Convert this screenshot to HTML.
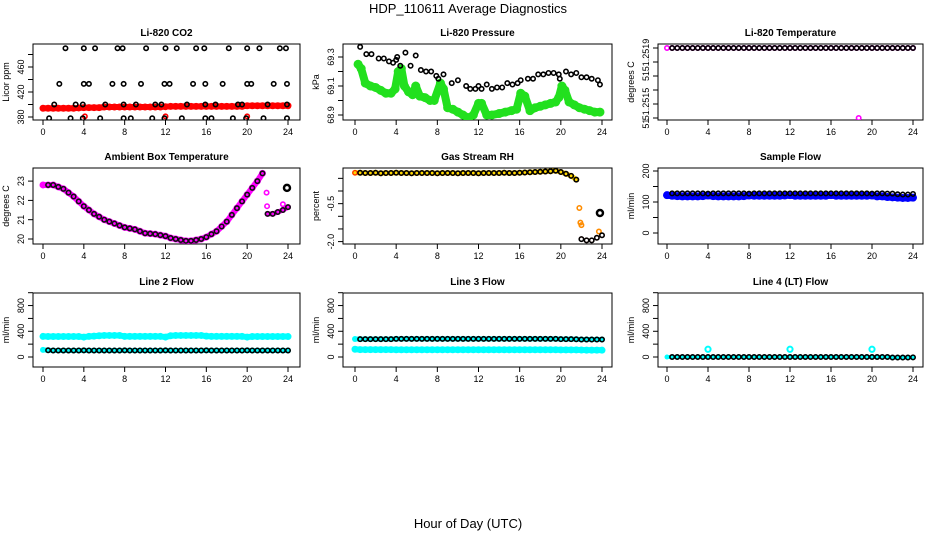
<!DOCTYPE html>
<html><head><meta charset="utf-8">
<style>
html,body{margin:0;padding:0;background:#fff;}
svg{display:block;font-family:"Liberation Sans",sans-serif;}
</style></head>
<body>
<svg id="chart" width="936" height="540" viewBox="0 0 936 540" xmlns="http://www.w3.org/2000/svg">
<text x="468" y="13" text-anchor="middle" font-size="13">HDP_110611  Average Diagnostics</text>
<text x="468" y="528" text-anchor="middle" font-size="13">Hour of Day (UTC)</text>
</svg>
<script>
// ---------- data ----------
const xTicks = [0,4,8,12,16,20,24];
const halfHours = [0,0.5,1,1.5,2,2.5,3,3.5,4,4.5,5,5.5,6,6.5,7,7.5,8,8.5,9,9.5,10,10.5,11,11.5,12,12.5,13,13.5,14,14.5,15,15.5,16,16.5,17,17.5,18,18.5,19,19.5,20,20.5,21,21.5,22,22.5,23,23.5,24];

// CO2
const co2Times = [2.2,4,5.1,7.3,7.8,10.1,12,13.1,15,15.8,18.2,20,21.2,23.2,23.8,
  1.6,4,4.5,6.8,7.9,9.6,11.9,12.4,14.7,15.9,17.6,20,20.4,22.6,23.9,
  1.1,3.2,3.9,6.1,7.9,9.1,11.0,11.6,14.1,15.9,16.9,19.1,19.5,22.0,23.9,
  0.6,2.7,3.9,5.6,7.9,8.6,10.7,11.9,13.6,15.9,16.5,18.6,19.9,21.6,23.9];
const co2Vals = [490,490,490,490,490,490,490,490,490,490,490,490,490,490,490,
  433,433,433,433,433,433,433,433,433,433,433,433,433,433,433,
  400,400,400,400,400,400,400,400,400,400,400,400,400,400,400,
  378,378,378,378,378,378,378,378,378,378,378,378,378,378,378];
const co2Red = [394,394,394,394,394,394,394,394.5,395,395,395,395,396,396,396,396,396,396,396,396,396,396,396,396,396.5,397,397,397,397,397,397,397,397,397,397,397,397,397,397,397,398,398,398,398,398,398,398,398,398];
const co2RedOutT = [4.1,12,20];
const co2RedOutV = [381,381,381];

// Pressure
const presTimes = [0.5,1.1,1.6,2.3,2.8,3.3,3.7,4.0,4.1,4.4,4.9,5.4,5.9,6.4,6.9,7.4,7.9,8.1,8.6,9.4,10.0,10.8,11.2,11.7,12.0,12.3,12.8,13.3,13.8,14.3,14.8,15.3,15.8,16.1,16.8,17.3,17.8,18.3,18.8,19.3,19.8,19.9,20.5,21.0,21.5,22.0,22.5,23.0,23.6,23.8];
const presVals = [69.37,69.32,69.32,69.29,69.29,69.27,69.26,69.28,69.3,69.24,69.33,69.24,69.31,69.21,69.2,69.2,69.17,69.15,69.18,69.12,69.14,69.1,69.08,69.08,69.1,69.08,69.11,69.08,69.09,69.09,69.12,69.11,69.12,69.14,69.15,69.15,69.18,69.18,69.19,69.19,69.18,69.15,69.2,69.18,69.19,69.16,69.16,69.15,69.14,69.11];
const presGreenT = [0.3,0.6,1.0,1.5,2,2.5,3,3.5,3.9,4.2,4.5,4.8,5.2,5.6,5.9,6.3,6.8,7.3,7.7,8.3,8.6,9.0,9.5,10,10.5,11,11.5,12.0,12.3,12.8,13.3,14,14.6,15.2,15.7,16.1,16.5,17,17.5,18,18.5,19,19.5,19.8,20.1,20.4,20.8,21.3,21.8,22.3,22.8,23.3,23.8];
const presGreenV = [69.25,69.22,69.12,69.1,69.09,69.07,69.05,69.05,69.08,69.2,69.22,69.1,69.06,69.04,69.1,69.03,69.02,69.0,69.0,69.12,69.08,68.95,68.94,68.92,68.9,68.88,68.9,68.98,68.98,68.9,68.9,68.91,68.92,68.93,68.94,69.05,69.03,68.93,68.95,68.96,68.97,68.98,68.99,69.02,69.1,69.07,68.99,68.97,68.95,68.94,68.93,68.92,68.92];

// Li-820 temperature
const tempBlack = [51.2519,51.2519,51.2519,51.2519,51.2519,51.2519,51.2519,51.2519,51.2519,51.2519,51.2519,51.2519,51.2519,51.2519,51.2519,51.2519,51.2519,51.2519,51.2519,51.2519,51.2519,51.2519,51.2519,51.2519,51.2519,51.2519,51.2519,51.2519,51.2519,51.2519,51.2519,51.2519,51.2519,51.2519,51.2519,51.2519,51.2519,51.2519,51.2519,51.2519,51.2519,51.2519,51.2519,51.2519,51.2519,51.2519,51.2519,51.2519,51.2519];
const tempOutT = [18.7];
const tempOutV = [51.2514];

// Ambient box temperature
const ambMag = [22.8,22.8,22.8,22.7,22.6,22.4,22.2,21.95,21.7,21.5,21.3,21.15,21.0,20.9,20.8,20.7,20.6,20.55,20.5,20.4,20.3,20.28,20.25,20.2,20.15,20.05,20.0,19.95,19.9,19.9,19.95,20.0,20.1,20.25,20.4,20.65,20.9,21.25,21.6,21.95,22.3,22.65,23.0,23.4,21.3,21.3,21.4,21.5,21.65];
const ambExtraT = [21.9,21.95,23.5];
const ambExtraV = [22.4,21.7,21.8];
const ambBlackOutT = [23.9];
const ambBlackOutV = [22.65];

// Gas stream RH
const rhVals = [0.72,0.72,0.71,0.71,0.72,0.7,0.71,0.71,0.72,0.71,0.71,0.7,0.71,0.71,0.71,0.71,0.7,0.71,0.71,0.71,0.7,0.71,0.71,0.71,0.7,0.71,0.71,0.71,0.71,0.72,0.71,0.71,0.72,0.73,0.74,0.75,0.76,0.77,0.78,0.8,0.75,0.68,0.6,0.45,-1.9,-1.95,-1.95,-1.85,-1.75];
const rhExtraT = [21.8,21.9,22.0,23.7];
const rhExtraV = [-0.67,-1.25,-1.35,-1.6];
const rhBlackOutT = [23.8];
const rhBlackOutV = [-0.87];

// Sample flow
const sfBlack = [128,128,128,128,128,128,128,128,127,128,128,128,128,128,128,128,127,128,128,128,128,128,128,128,128,128,128,128,128,128,128,128,128,128,128,128,128,128,128,128,127,128,128,127,127,125,124,124,126];
const sfBlue = [122,120,119,118,118,118,118,119,121,119,118,118,118,118,118,119,121,120,120,120,120,120,120,121,122,120,120,120,120,120,120,120,122,120,120,120,120,120,120,120,121,118,118,116,115,114,113,113,114];

// Line 2 flow
const l2Upper = [320,318,318,318,318,318,318,318,310,320,325,330,335,335,335,335,320,320,320,320,320,320,320,320,310,330,335,335,335,335,335,335,325,320,320,320,320,320,320,320,310,318,318,318,318,318,318,318,318];
const l2Lower = [110,105,102,102,102,102,102,102,103,102,102,102,102,102,102,102,103,102,102,102,102,102,102,102,103,102,102,102,102,102,102,102,103,102,102,102,102,102,102,102,103,102,102,102,102,102,102,102,102];

// Line 3 flow
const l3Upper = [280,278,278,278,278,278,278,278,282,282,282,282,282,282,282,282,282,282,282,282,282,282,282,282,282,282,282,282,282,282,282,282,282,282,282,282,282,282,282,282,278,278,278,276,272,272,272,272,272];
const l3Lower = [120,115,114,114,114,114,114,114,112,112,112,112,112,112,112,112,112,112,112,112,112,112,112,112,112,112,112,112,112,112,112,112,112,112,112,112,112,112,112,112,110,110,110,110,108,106,106,106,106];

// Line 4 flow
const l4Vals = [0,0,0,0,0,0,0,0,0,0,0,0,0,0,0,0,0,0,0,0,0,0,0,0,0,0,0,0,0,0,0,0,0,0,0,0,0,0,0,0,0,0,0,0,-8,-8,-8,-8,-5];
const l4OutT = [4,12,20];
const l4OutV = [120,120,120];

// ---------- drawing ----------
const NS = "http://www.w3.org/2000/svg";
const svg = document.getElementById('chart');
function mk(tag, attrs, parent){
  const e = document.createElementNS(NS, tag);
  for (const k in attrs) e.setAttribute(k, attrs[k]);
  (parent||svg).appendChild(e);
  return e;
}
const cols = [{x0:43,x24:288,L:33,R:300},{x0:355,x24:602,L:343,R:612},{x0:667,x24:913,L:658,R:923}];
const rows = [{T:44,B:120},{T:168,B:244},{T:293,B:367}];

function panel(name, title, ylab, col, row, yMap, yTicks, yLabVals, yLabText){
  const c = cols[col], r = rows[row];
  const g = mk('g', {});
  
  
  const xs = h => c.x0 + (c.x24 - c.x0) * h / 24;
  const box = mk('rect', {x:c.L, y:r.T, width:c.R-c.L, height:r.B-r.T, fill:'none', stroke:'#000', 'stroke-width':1}, g);
  
  
  const t = mk('text', {x:(c.L+c.R)/2, y:r.T-8, 'text-anchor':'middle', 'font-size':10, 'font-weight':'bold'}, g);
  t.textContent = title;
  
  
  const xa = mk('g', {}, g);
  
  
  xTicks.forEach(v => {
    mk('line', {x1:xs(v), x2:xs(v), y1:r.B, y2:r.B+5, stroke:'#000'}, xa);
    const tl = mk('text', {x:xs(v), y:r.B+15, 'text-anchor':'middle', 'font-size':9}, xa);
    tl.textContent = v;
    
    
  });
  const ya = mk('g', {}, g);
  
  
  yTicks.forEach(v => mk('line', {x1:c.L-5, x2:c.L, y1:yMap(v), y2:yMap(v), stroke:'#000'}, ya));
  yLabVals.forEach((v, i) => {
    const y = yMap(v), x = c.L - 9;
    const tl = mk('text', {x:x, y:y, 'text-anchor':'middle', 'font-size':9, transform:`rotate(-90 ${x} ${y})`}, ya);
    tl.textContent = yLabText[i];
    
    
  });
  const ylx = c.L - 24, yly = (r.T + r.B) / 2;
  const yl = mk('text', {x:ylx, y:yly, 'text-anchor':'middle', 'font-size':9, transform:`rotate(-90 ${ylx} ${yly})`}, g);
  yl.textContent = ylab;
  
  
  const clip = 'clip-' + name;
  const cp = mk('clipPath', {id:clip}, g);
  mk('rect', {x:c.L, y:r.T, width:c.R-c.L, height:r.B-r.T}, cp);
  const plot = mk('g', {'clip-path':`url(#${clip})`}, g);
  return {xs, y:yMap, plot};
}
function band(p, ts, vs, color, w, nm){
  const g = mk('g', {}, p.plot);
  
  
  const pts = ts.map((t,i)=>p.xs(t)+','+p.y(vs[i])).join(' ');
  mk('polyline', {points:pts, fill:'none', stroke:color, 'stroke-width':w, 'stroke-linejoin':'round', 'stroke-linecap':'round'}, g);
  ts.forEach((t,i) => {
    const c = mk('circle', {cx:p.xs(t), cy:p.y(vs[i]), r:w/2+0.5, fill:color}, g);
    
    
  });
}
function pts(p, ts, vs, color, nm, rr, sw){
  const g = mk('g', {}, p.plot);
  
  
  ts.forEach((t,i) => {
    const c = mk('circle', {cx:p.xs(t), cy:p.y(vs[i]), r:rr||2.2, fill:'none', stroke:color, 'stroke-width':sw||1.6}, g);
    
    
  });
}
const hh = halfHours, hhB = halfHours.slice(1);

let p = panel('co2', 'Li-820 CO2', 'Licor ppm', 0, 0, v => 117 - (v-380)*0.625, [380,400,420,440,460,480], [380,420,460], ['380','420','460']);
band(p, hh, co2Red, '#ff0000', 6, 'co2-red-series');
pts(p, co2RedOutT, co2RedOutV, '#ff0000', 'co2-red-outlier');
pts(p, co2Times, co2Vals, '#000', 'co2-black-series');

p = panel('pressure', 'Li-820 Pressure', 'kPa', 1, 0, v => 115 - (v-68.9)*145, [68.9,69.0,69.1,69.2,69.3], [68.9,69.1,69.3], ['68.9','69.1','69.3']);
band(p, presGreenT, presGreenV, '#22e01e', 8, 'pressure-green-series');
pts(p, presTimes, presVals, '#000', 'pressure-black-series');

p = panel('li820-temp', 'Li-820 Temperature', 'degrees C', 2, 0, v => 48 + (51.2519 - v)*140000, [51.2519,51.2518,51.2517,51.2516,51.2515,51.2514], [51.25185,51.2517,51.2515,51.25136], ['51.2519','51','51.2515','51']);
pts(p, hh, tempBlack, '#ff00ff', 'temp-magenta-series');
pts(p, tempOutT, tempOutV, '#ff00ff', 'temp-magenta-outlier');
pts(p, hhB, tempBlack.slice(1), '#000', 'temp-black-series');

p = panel('ambient', 'Ambient Box Temperature', 'degrees C', 0, 1, v => 239 - (v-20)*19.3, [20,21,22,23], [20,21,22,23], ['20','21','22','23']);
band(p, hh.slice(0,44), ambMag.slice(0,44), '#ff00ff', 6, 'ambient-magenta-series');
band(p, hh.slice(44), ambMag.slice(44), '#ff00ff', 5, 'ambient-magenta-tail');
pts(p, ambExtraT, ambExtraV, '#ff00ff', 'ambient-magenta-extra');
pts(p, hhB, ambMag.slice(1), '#111', 'ambient-black-series');
pts(p, ambBlackOutT, ambBlackOutV, '#000', 'ambient-black-outlier', 3, 2.5);

p = panel('rh', 'Gas Stream RH', 'percent', 1, 1, v => 191 - v*25.3, [0.5,0,-0.5,-1,-1.5,-2], [-0.5,-2.0], ['-0.5','-2.0']);
band(p, hh.slice(0,44), rhVals.slice(0,44), '#ffd700', 5, 'rh-yellow-series');
pts(p, hh, rhVals, '#ff2000', 'rh-red-series', 2.2, 1.2);
pts(p, rhExtraT, rhExtraV, '#ff8c00', 'rh-extra');
pts(p, hhB, rhVals.slice(1), '#000', 'rh-black-series');
pts(p, rhBlackOutT, rhBlackOutV, '#000', 'rh-black-outlier', 3, 2.5);

p = panel('sample-flow', 'Sample Flow', 'ml/min', 2, 1, v => 233 - v*0.31, [0,50,100,150,200], [0,100,200], ['0','100','200']);
band(p, hh, sfBlue, '#0000ff', 7, 'sample-flow-blue-series');
pts(p, hhB, sfBlack.slice(1), '#000', 'sample-flow-black-series');

const fy = v => 357 - v*0.0643;
const fTicks = [0,200,400,600,800,1000];
p = panel('line2', 'Line 2 Flow', 'ml/min', 0, 2, fy, fTicks, [0,400,800], ['0','400','800']);
band(p, hh, l2Upper, '#00ffff', 6, 'line2-cyan-upper');
band(p, hh, l2Lower, '#00ffff', 5, 'line2-cyan-lower');
pts(p, hhB, l2Lower.slice(1), '#000', 'line2-black-series');

p = panel('line3', 'Line 3 Flow', 'ml/min', 1, 2, fy, fTicks, [0,400,800], ['0','400','800']);
band(p, hh, l3Lower, '#00ffff', 6, 'line3-cyan-lower');
band(p, hh, l3Upper, '#00ffff', 5, 'line3-cyan-upper');
pts(p, hhB, l3Upper.slice(1), '#000', 'line3-black-series');

p = panel('line4', 'Line 4 (LT) Flow', 'ml/min', 2, 2, fy, fTicks, [0,400,800], ['0','400','800']);
band(p, hh, l4Vals, '#00ffff', 4, 'line4-cyan-series');
pts(p, l4OutT, l4OutV, '#00ffff', 'line4-cyan-outlier', 2.6, 2);
pts(p, hhB, l4Vals.slice(1), '#000', 'line4-black-series');
</script>
</body></html>
